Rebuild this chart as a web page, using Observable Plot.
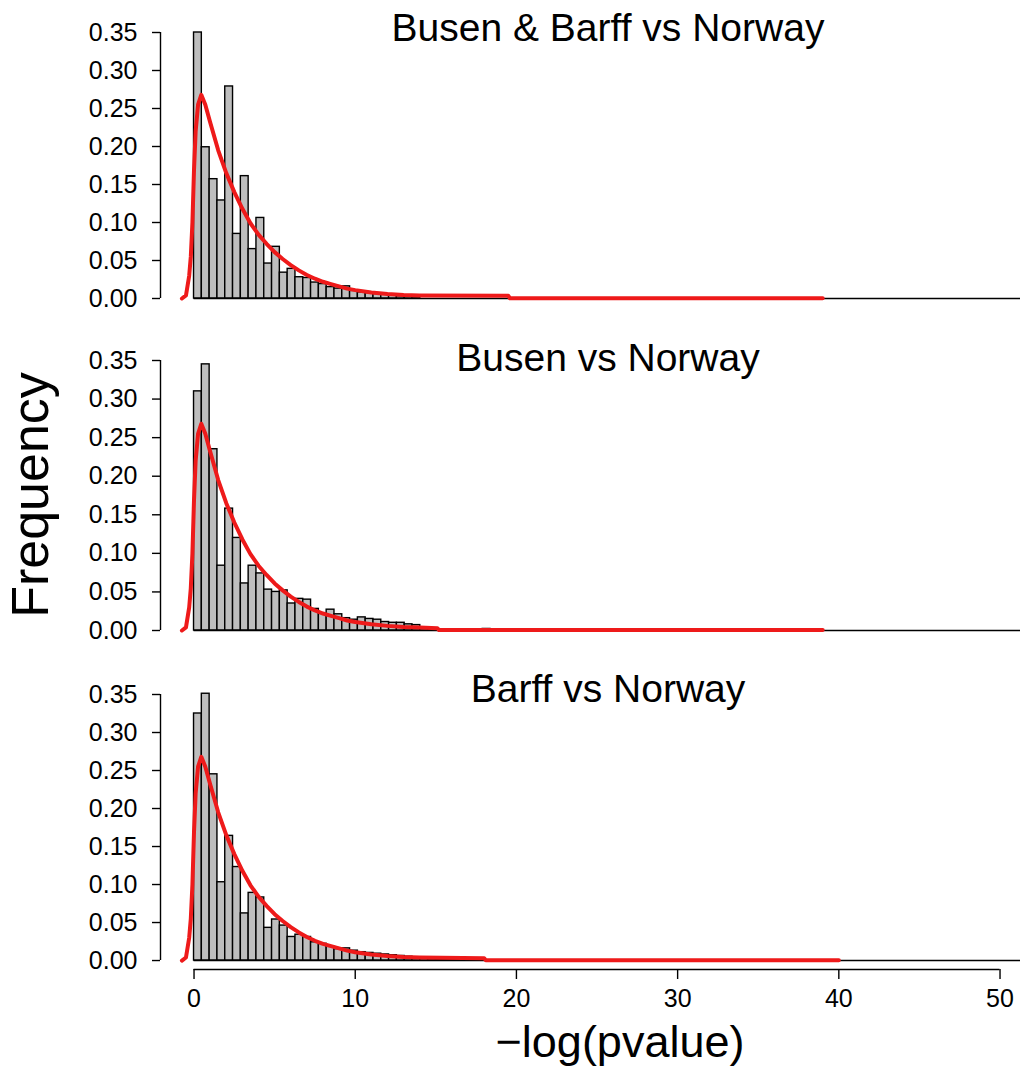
<!DOCTYPE html>
<html>
<head>
<meta charset="utf-8">
<script src="https://cdn.jsdelivr.net/npm/d3@7"></script>
<script src="https://cdn.jsdelivr.net/npm/@observablehq/plot@0.6"></script>
<style>
  html, body { margin: 0; padding: 0; background: #fff; }
  #wrap { position: relative; width: 1020px; height: 1074px; overflow: hidden; background: #fff; }
  #wrap > svg, #wrap > div { position: absolute; left: 0; }
  text { font-family: "Liberation Sans", Arial, sans-serif; }
</style>
</head>
<body>
<div id="wrap"></div>
<script>
// ---------------- data ----------------
const panelTitles = ["Busen & Barff vs Norway", "Busen vs Norway", "Barff vs Norway"];
const xTicks = [0, 10, 20, 30, 40, 50];
const yTicks = [0, 0.05, 0.10, 0.15, 0.20, 0.25, 0.30, 0.35];
const xLabel = "\u2212log(pvalue)";
const yLabel = "Frequency";
const binWidth = 0.484;

// histogram densities per bin (bin i spans [i*binWidth, (i+1)*binWidth])
const barsBusenBarff = [0.350, 0.199, 0.157, 0.129, 0.279, 0.085, 0.161, 0.065, 0.106, 0.046,
  0.068, 0.034, 0.039, 0.028, 0.027, 0.021, 0.019, 0.015, 0.013, 0.016,
  0.010, 0.008, 0.007, 0.006, 0.005, 0.004, 0.003, 0.003, 0.002];
const barsBusen = [0.310, 0.345, 0.235, 0.084, 0.158, 0.120, 0.061, 0.084, 0.074, 0.053,
  0.050, 0.052, 0.035, 0.041, 0.040, 0.028, 0.022, 0.027, 0.021, 0.016,
  0.014, 0.017, 0.015, 0.014, 0.011, 0.010, 0.010, 0.008, 0.007, 0.003,
  0.002, 0.0015, 0.001, 0.001, 0.001, 0.001, 0.001, 0.002];
const barsBarff = [0.325, 0.351, 0.245, 0.103, 0.164, 0.123, 0.062, 0.089, 0.083, 0.043,
  0.054, 0.046, 0.031, 0.034, 0.031, 0.024, 0.022, 0.018, 0.015, 0.016,
  0.013, 0.011, 0.010, 0.009, 0.008, 0.007, 0.006, 0.005, 0.004, 0.003,
  0.002, 0.0015, 0.001, 0.001, 0.001, 0.001, 0.001];

// null-distribution density curve (red), shared body
const curveX = [-0.75, -0.5, -0.3, -0.2, -0.1, 0.0, 0.1, 0.25, 0.45, 0.7, 1.0, 1.5, 2.0, 2.5, 3.0, 3.5,
  4.0, 4.5, 5.0, 5.5, 6.0, 6.5, 7.0, 7.5, 8.0, 8.5, 9.0, 9.5, 10, 11, 12, 13];
const curveY = [0, 0.004, 0.03, 0.055, 0.10, 0.17, 0.22, 0.255, 0.268, 0.255, 0.232, 0.195, 0.165, 0.14, 0.118, 0.099,
  0.084, 0.072, 0.061, 0.052, 0.044, 0.037, 0.031, 0.026, 0.022, 0.019, 0.016, 0.013, 0.011, 0.008, 0.006, 0.0045];
// tails per panel
const tailX1 = [14, 19.5, 19.6, 39];   const tailY1 = [0.004, 0.0035, 0.0003, 0.0003];
const tailX2 = [14, 15.1, 15.2, 39];   const tailY2 = [0.004, 0.003, 0.0005, 0.0005];
const tailX3 = [14, 18.0, 18.1, 40];   const tailY3 = [0.004, 0.003, 0.0003, 0.0003];

const panelBars = [barsBusenBarff, barsBusen, barsBarff];
const panelTails = [[tailX1, tailY1], [tailX2, tailY2], [tailX3, tailY3]];

// ---------------- layout ----------------
const W = 1020;
const xDomain = [-2.08, 51.27];
const marginLeft = 160;
const panels = [
  {top: 0,   height: 320, mt: 32, mb: 22,  ymin: 0},
  {top: 320, height: 330, mt: 40, mb: 20,  ymin: 0},
  {top: 650, height: 424, mt: 44, mb: 105, ymin: -0.0118}
];
const FONT = '"Liberation Sans", Arial, sans-serif';
const RED = "#ee1a1a";

const wrap = document.getElementById("wrap");

panels.forEach((p, k) => {
  const bins = panelBars[k].map((v, i) => ({x1: i * binWidth, x2: (i + 1) * binWidth, y1: 0, y2: v}));
  const [tx, ty] = panelTails[k];
  const curve = curveX.map((x, i) => ({x, y: curveY[i]}))
    .concat(tx.map((x, i) => ({x, y: ty[i]})));

  const marks = [
    Plot.rect(bins, {x1: "x1", x2: "x2", y1: "y1", y2: "y2", fill: "#bebebe", stroke: "#000", strokeWidth: 1.4}),
    Plot.ruleY([0], {x1: 0, x2: xDomain[1], stroke: "#000", strokeWidth: 1.4}),
    Plot.line(curve, {x: "x", y: "y", stroke: RED, strokeWidth: 4, strokeLinejoin: "round"}),
    Plot.ruleX([xDomain[0]], {y1: 0, y2: 0.35, stroke: "#000", strokeWidth: 1.4}),
    Plot.axisY({ticks: yTicks, tickFormat: d3.format(".2f"), tickSize: 8, tickPadding: 15,
      fontSize: 25, label: null, stroke: "#000", strokeWidth: 1.4})
  ];
  if (k === 2) {
    marks.push(
      Plot.ruleY([p.ymin], {x1: 0, x2: 50, stroke: "#000", strokeWidth: 1.4}),
      Plot.axisX({ticks: xTicks, tickSize: 10, tickPadding: 10, fontSize: 25, label: null,
        stroke: "#000", strokeWidth: 1.4})
    );
  }
  const svg = Plot.plot({
    width: W,
    height: p.height,
    marginLeft: marginLeft,
    marginRight: 0,
    marginTop: p.mt,
    marginBottom: p.mb,
    style: {fontFamily: FONT, color: "#000", background: "transparent", overflow: "visible"},
    x: {domain: xDomain, axis: null},
    y: {domain: [p.ymin, 0.35], axis: null},
    marks
  });
  svg.style.top = p.top + "px";
  svg.style.position = "absolute";
  wrap.appendChild(svg);
});

// overlay with titles and axis labels
const overlay = d3.select(wrap).append("svg")
  .attr("width", W).attr("height", 1074)
  .style("position", "absolute").style("top", "0px").style("left", "0px")
  .style("pointer-events", "none");

const titleBaselines = [41, 371, 702];
panelTitles.forEach((t, i) => {
  overlay.append("text")
    .attr("x", 608).attr("y", titleBaselines[i])
    .attr("text-anchor", "middle")
    .attr("font-family", FONT).attr("font-size", 39).attr("fill", "#000")
    .text(t);
});
overlay.append("text")
  .attr("transform", "translate(48,495) rotate(-90)")
  .attr("text-anchor", "middle")
  .attr("font-family", FONT).attr("font-size", 52).attr("fill", "#000")
  .text(yLabel);
overlay.append("text")
  .attr("x", 620).attr("y", 1057)
  .attr("text-anchor", "middle")
  .attr("font-family", FONT).attr("font-size", 45).attr("fill", "#000")
  .text(xLabel);
</script>
</body>
</html>
